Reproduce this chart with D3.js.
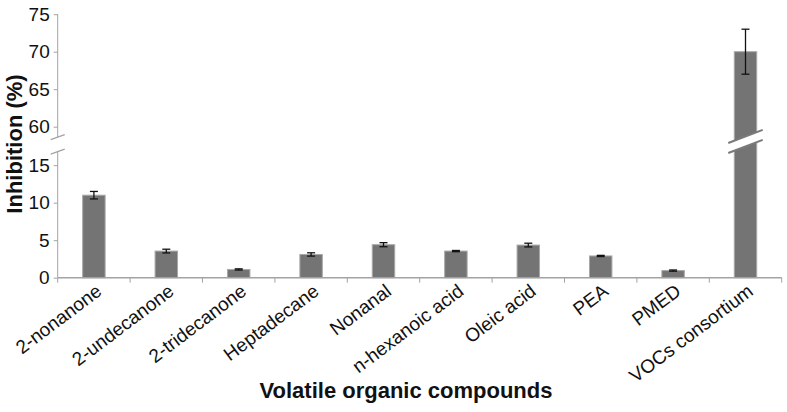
<!DOCTYPE html>
<html>
<head>
<meta charset="utf-8">
<script src="https://cdn.jsdelivr.net/npm/d3@7"></script>
<style>
  body { margin: 0; background: #fff; }
  text { font-family: Arial, "Liberation Sans", sans-serif; }
</style>
</head>
<body>
<svg id="chart"></svg>
<script>
var compounds = ["2-nonanone", "2-undecanone", "2-tridecanone", "Heptadecane", "Nonanal",
  "n-hexanoic acid", "Oleic acid", "PEA", "PMED", "VOCs consortium"];
var inhibition = [11.0, 3.55, 1.1, 3.1, 4.4, 3.55, 4.35, 2.9, 0.95, 70.0];
var inhibitionErr = [0.5, 0.25, 0.08, 0.22, 0.27, 0.08, 0.25, 0.08, 0.08, 3.0];
var yTicks = [0, 5, 10, 15, 60, 65, 70, 75];
var breakLow = 16.8, breakHigh = 58.6;

function main() {
  var svgWidth = 787, svgHeight = 412;
  var left = 57.7, right = 781.7, bottom = 277.7;
  var axisColor = "#a3a3a3";
  var svg = d3.select("#chart").attr("width", svgWidth).attr("height", svgHeight);

  var x = d3.scaleBand().domain(compounds).range([left, right]).padding(0);
  // broken y scale: 7.5 px per unit on both sides of the break
  var y = d3.scaleLinear()
    .domain([0, breakLow, breakHigh, 75])
    .range([bottom, bottom - breakLow * 7.5, bottom - breakLow * 7.5 - 14.5,
      bottom - breakLow * 7.5 - 14.5 - (75 - breakHigh) * 7.5]);
  var barWidth = x.bandwidth() * 0.31;

  // y axis
  var yAxis = d3.axisLeft(y).tickValues(yTicks).tickSize(4).tickPadding(4).tickFormat(d3.format("d"));
  var yAxisNode = svg.append("g").attr("transform", `translate(${left},0)`).call(yAxis);
  yAxisNode.select(".domain").remove();
  yAxisNode.selectAll(".tick line").attr("stroke", axisColor);
  yAxisNode.selectAll(".tick text").attr("font-size", 19).attr("fill", "#111");
  var segments = [[0, breakLow], [breakHigh, 75]];
  yAxisNode.selectAll("line.seg")
    .data(segments)
    .enter()
    .append("line")
    .attr("class", "seg")
    .attr("x1", 0).attr("x2", 0)
    .attr("y1", (d) => y(d[0])).attr("y2", (d) => y(d[1]))
    .attr("stroke", axisColor);
  yAxisNode.selectAll("line.brk")
    .data([breakLow, breakHigh])
    .enter()
    .append("line")
    .attr("class", "brk")
    .attr("x1", -7).attr("x2", 7)
    .attr("y1", (d) => y(d) + 2.5).attr("y2", (d) => y(d) - 2.5)
    .attr("stroke", axisColor)
    .attr("stroke-width", 1.3);

  // x axis
  var xAxisNode = svg.append("g").attr("transform", `translate(0,${bottom})`);
  xAxisNode.append("line")
    .attr("x1", left).attr("x2", right)
    .attr("stroke", axisColor).attr("stroke-width", 1.5);
  xAxisNode.selectAll("line.tick")
    .data(compounds.map((c) => x(c)).concat([right]))
    .enter()
    .append("line")
    .attr("class", "tick")
    .attr("x1", (d) => d).attr("x2", (d) => d)
    .attr("y1", 0).attr("y2", 5)
    .attr("stroke", axisColor);
  xAxisNode.selectAll("text")
    .data(compounds)
    .enter()
    .append("text")
    .attr("text-anchor", "end")
    .attr("font-size", 19)
    .attr("fill", "#111")
    .attr("transform", (d) => `translate(${x(d) + x.bandwidth() / 2 + 9},${16}) rotate(-37)`)
    .text((d) => d);

  // bars
  svg.append("g").selectAll("rect")
    .data(compounds)
    .enter()
    .append("rect")
    .attr("x", (d) => x(d) + (x.bandwidth() - barWidth) / 2)
    .attr("y", (d, i) => y(inhibition[i]))
    .attr("width", barWidth)
    .attr("height", (d, i) => bottom - y(inhibition[i]))
    .attr("fill", "#747474")
    .attr("stroke", "#a8a8a8")
    .attr("stroke-width", 1);

  // break on the tall bar
  var tallIdx = inhibition.indexOf(d3.max(inhibition));
  var cx = x(compounds[tallIdx]) + x.bandwidth() / 2;
  var cy = (y(breakLow) + y(breakHigh)) / 2 - 3;
  var half = barWidth / 2 + 6;
  var slope = 0.38;
  var gap = 5;
  svg.append("path")
    .attr("d", `M${cx - half},${cy + half * slope - gap} L${cx + half},${cy - half * slope - gap}
      L${cx + half},${cy - half * slope + gap} L${cx - half},${cy + half * slope + gap} Z`)
    .attr("fill", "#fff");
  svg.selectAll("line.barbrk")
    .data([-gap, gap])
    .enter()
    .append("line")
    .attr("class", "barbrk")
    .attr("x1", cx - half).attr("x2", cx + half)
    .attr("y1", (d) => cy + half * slope + d).attr("y2", (d) => cy - half * slope + d)
    .attr("stroke", "#7a7a7a")
    .attr("stroke-width", 2);

  // error bars
  var errG = svg.append("g").attr("stroke", "#111").attr("stroke-width", 1.3);
  compounds.forEach(function (c, i) {
    var ex = x(c) + x.bandwidth() / 2;
    var y1 = y(inhibition[i] + inhibitionErr[i]);
    var y2 = y(inhibition[i] - inhibitionErr[i]);
    errG.append("line").attr("x1", ex).attr("x2", ex).attr("y1", y1).attr("y2", y2);
    errG.append("line").attr("x1", ex - 4).attr("x2", ex + 4).attr("y1", y1).attr("y2", y1);
    errG.append("line").attr("x1", ex - 4).attr("x2", ex + 4).attr("y1", y2).attr("y2", y2);
  });

  // axis titles
  svg.append("text")
    .attr("x", 406).attr("y", 398)
    .attr("text-anchor", "middle")
    .attr("font-size", 22).attr("font-weight", "bold")
    .attr("fill", "#111")
    .text("Volatile organic compounds");
  svg.append("text")
    .attr("transform", "translate(22,144) rotate(-90)")
    .attr("text-anchor", "middle")
    .attr("font-size", 22).attr("font-weight", "bold")
    .attr("fill", "#111")
    .text("Inhibition (%)");
}
main();
</script>
</body>
</html>
